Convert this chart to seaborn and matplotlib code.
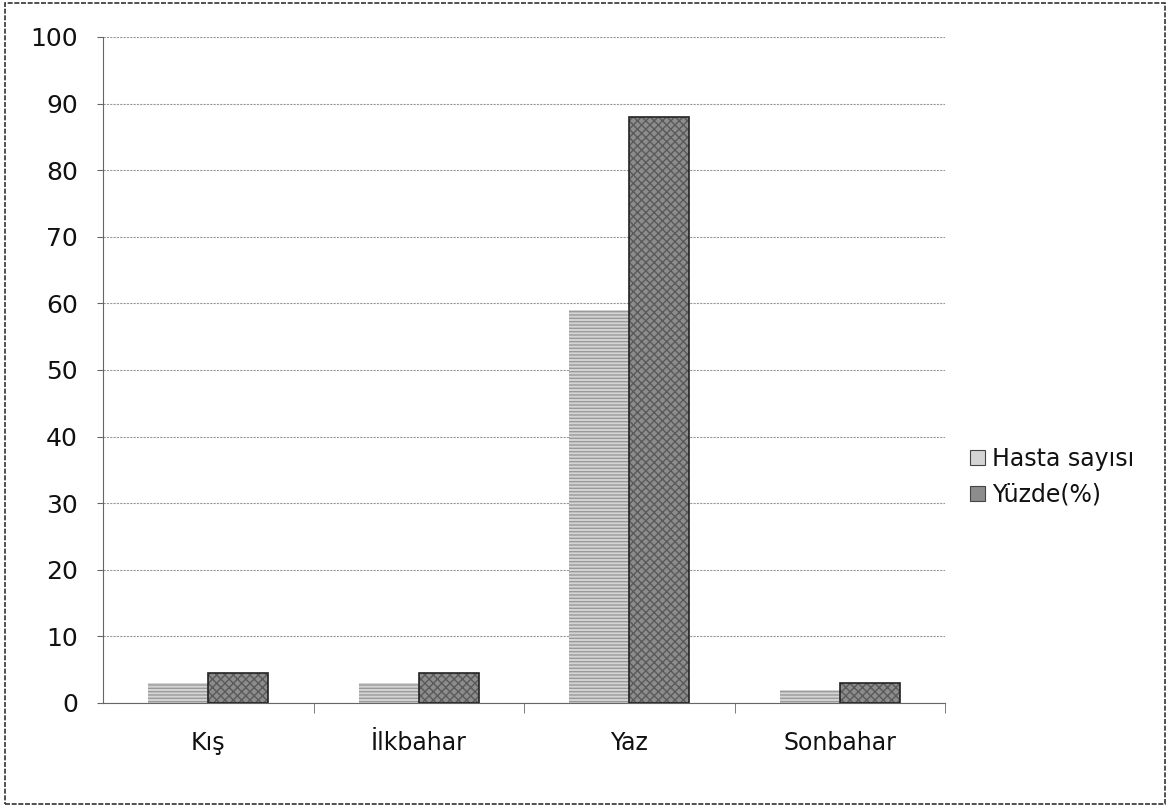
import matplotlib
matplotlib.use("Agg")
import matplotlib.pyplot as plt
import seaborn as sns
import pandas as pd
import numpy as np
from matplotlib.patches import Rectangle

# veriler
mevsimler = ["Kış", "İlkbahar", "Yaz", "Sonbahar"]
hasta_sayisi = [3, 3, 59, 2]
yuzde = [4.5, 4.5, 88, 3]
seriler = ["Hasta sayısı", "Yüzde(%)"]

df = pd.DataFrame({
    "mevsim": mevsimler * 2,
    "seri": [seriler[0]] * 4 + [seriler[1]] * 4,
    "deger": hasta_sayisi + yuzde,
})

sns.set_style("white")
plt.rcParams['font.family'] = ['DejaVu Sans']
plt.rcParams['text.color'] = '#111111'
plt.rcParams['xtick.color'] = '#111111'
plt.rcParams['ytick.color'] = '#111111'

fig = plt.figure(figsize=(11.7, 8.07), dpi=100)
ax = fig.add_axes([103 / 1170, 1 - 703 / 807, (945 - 103) / 1170, (703 - 37) / 807])

sns.barplot(data=df, x="mevsim", y="deger", hue="seri", order=mevsimler,
            hue_order=seriler, palette=["#d4d4d4", "#8c8c8c"], width=0.57,
            saturation=1, ax=ax, legend=True)

# bar desenleri
for i, bar in enumerate(ax.patches):
    if i < 4:
        bar.set_hatch("-----")
        bar.set_edgecolor("#9a9a9a")
        bar.set_linewidth(0)
    elif i < 8:
        bar.set_hatch("xxxx")
        bar.set_edgecolor("#5a5a5a")
        bar.set_linewidth(0)
        # koyu kenar
        ax.add_patch(Rectangle((bar.get_x(), 0), bar.get_width(), bar.get_height(),
                               fill=False, edgecolor="#222222", linewidth=1.2, zorder=3))

ax.set_ylim(0, 100)
ax.set_xlim(-0.5, 3.5)
ax.set_yticks(np.arange(0, 101, 10))
ax.yaxis.grid(True, color="#999999", linewidth=0.8, linestyle=(0, (2, 1)))
ax.set_axisbelow(True)
ax.set_xlabel("")
ax.set_ylabel("")

for s in ["top", "right"]:
    ax.spines[s].set_visible(False)
ax.spines["left"].set_color("#666666")
ax.spines["bottom"].set_color("#666666")

ax.tick_params(axis="y", labelsize=18, length=4, left=True, color="#666666", pad=14)
ax.tick_params(axis="x", labelsize=17, length=0, pad=20)
ax.set_xticks([0.5, 1.5, 2.5, 3.5], minor=True)
ax.tick_params(axis="x", which="minor", length=7, bottom=True, color="#666666")

leg = ax.legend(loc="center left", bbox_to_anchor=(1.005, 0.34), frameon=False,
                fontsize=17, handlelength=0.6, handleheight=0.6, handletextpad=0.3,
                labelspacing=0.5)
for h in leg.legend_handles:
    h.set_edgecolor("#444444")
    h.set_linewidth(0.8)

# dış çerçeve
fig.patches.append(Rectangle((0.004, 0.004), 0.992, 0.992, transform=fig.transFigure,
                             fill=False, edgecolor="#333333", linewidth=1.2,
                             linestyle=(0, (3, 1))))

fig.savefig("out.png", dpi=100)
